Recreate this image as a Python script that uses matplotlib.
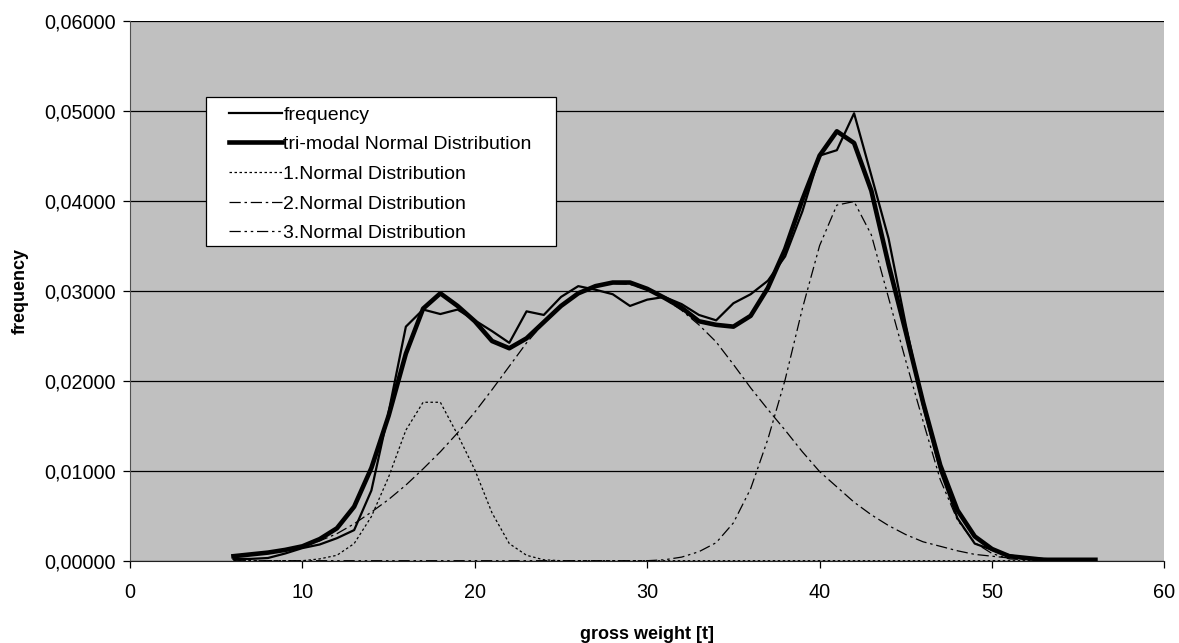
import matplotlib.pyplot as plt
from matplotlib.patches import Rectangle
from matplotlib.ticker import FuncFormatter, MultipleLocator

plt.rcParams['font.family'] = ['Liberation Sans', 'DejaVu Sans']

# gross weight classes [t]
weight = list(range(6, 57))

# observed frequency
frequency = [0.0002, 0.0002, 0.0003, 0.0008, 0.0014, 0.0018, 0.0025, 0.0034, 0.0078, 0.0165,
             0.0260, 0.0279, 0.0274, 0.0279, 0.0267, 0.0255, 0.0242, 0.0277, 0.0273, 0.0293,
             0.0305, 0.0301, 0.0296, 0.0283, 0.0290, 0.0293, 0.0285, 0.0273, 0.0267, 0.0286,
             0.0296, 0.0311, 0.0338, 0.0388, 0.0450, 0.0456, 0.0497, 0.0428, 0.0358, 0.0262,
             0.0172, 0.0100, 0.0047, 0.0019, 0.0012, 0.0006, 0.0003, 0.0002, 0.0001, 0.0001,
             0.0001]

# fitted tri-modal normal distribution
tri_modal = [0.0005, 0.0007, 0.0009, 0.0012, 0.0016, 0.0024, 0.0036, 0.0060, 0.0103, 0.0161,
             0.0230, 0.0280, 0.0297, 0.0283, 0.0266, 0.0244, 0.0236, 0.0247, 0.0265, 0.0283,
             0.0297, 0.0305, 0.0309, 0.0309, 0.0302, 0.0292, 0.0281, 0.0266, 0.0262, 0.0260,
             0.0272, 0.0303, 0.0346, 0.0401, 0.0450, 0.0477, 0.0464, 0.0411, 0.0329, 0.0254,
             0.0176, 0.0106, 0.0056, 0.0027, 0.0013, 0.0005, 0.0003, 0.0001, 0.0001, 0.0001,
             0.0001]

# single components
normal_1 = [0.0, 0.0, 0.0, 0.0, 0.0, 0.0002, 0.0006, 0.0019, 0.0049, 0.0093,
            0.0145, 0.0176, 0.0176, 0.0140, 0.0101, 0.0053, 0.0019, 0.0006, 0.0001, 0.0,
            0.0, 0.0, 0.0, 0.0, 0.0, 0.0, 0.0, 0.0, 0.0, 0.0,
            0.0, 0.0, 0.0, 0.0, 0.0, 0.0, 0.0, 0.0, 0.0, 0.0,
            0.0, 0.0, 0.0, 0.0, 0.0, 0.0, 0.0, 0.0, 0.0, 0.0,
            0.0]

normal_2 = [0.0005, 0.0007, 0.0009, 0.0012, 0.0016, 0.0022, 0.0030, 0.0041, 0.0054, 0.0068,
            0.0084, 0.0102, 0.0121, 0.0142, 0.0165, 0.0190, 0.0216, 0.0242, 0.0264, 0.0283,
            0.0297, 0.0305, 0.0308, 0.0307, 0.0301, 0.0291, 0.0278, 0.0262, 0.0243, 0.0218,
            0.0192, 0.0168, 0.0145, 0.0121, 0.0099, 0.0082, 0.0065, 0.0051, 0.0039, 0.0029,
            0.0021, 0.0016, 0.0011, 0.0007, 0.0005, 0.0003, 0.0002, 0.0001, 0.0001, 0.0,
            0.0]

normal_3 = [0.0, 0.0, 0.0, 0.0, 0.0, 0.0, 0.0, 0.0, 0.0, 0.0,
            0.0, 0.0, 0.0, 0.0, 0.0, 0.0, 0.0, 0.0, 0.0, 0.0,
            0.0, 0.0, 0.0, 0.0, 0.0, 0.0001, 0.0004, 0.0010, 0.0020, 0.0042,
            0.0080, 0.0135, 0.0201, 0.0280, 0.0350, 0.0395, 0.0399, 0.0362, 0.0292, 0.0222,
            0.0155, 0.0090, 0.0045, 0.0020, 0.0008, 0.0002, 0.0001, 0.0, 0.0, 0.0,
            0.0]

W, H = 1179, 643
fig = plt.figure(figsize=(W / 100, H / 100), dpi=100)
ax = fig.add_axes([0.1103, 0.128, 0.8773, 0.840])
ax.set_facecolor('#C0C0C0')

ax.plot(weight, frequency, color='black', lw=1.6, label='frequency', zorder=5)
ax.plot(weight, tri_modal, color='black', lw=3.3, label='tri-modal Normal Distribution', zorder=6)
ax.plot(weight, normal_1, color='black', lw=0.9, dashes=(2, 2), label='1.Normal Distribution', zorder=4)
ax.plot(weight, normal_2, color='black', lw=0.9, dashes=(9, 3, 2, 3), label='2.Normal Distribution', zorder=4)
ax.plot(weight, normal_3, color='black', lw=0.9, dashes=(9, 3, 2, 3, 2, 3), label='3.Normal Distribution', zorder=4)

ax.set_xlim(0, 60)
ax.set_ylim(0, 0.06)
ax.xaxis.set_major_locator(MultipleLocator(10))
ax.yaxis.set_major_locator(MultipleLocator(0.01))
ax.yaxis.set_major_formatter(FuncFormatter(lambda v, p: f'{v:.5f}'.replace('.', ',')))
ax.grid(axis='y', color='black', lw=0.9)
ax.set_axisbelow(True)

for side in ['top', 'right']:
    ax.spines[side].set_visible(False)
ax.spines['left'].set_color('#505050')
ax.spines['bottom'].set_color('#202020')
ax.tick_params(axis='both', direction='out', length=5, width=0.9, labelsize=14.3, colors='black')
ax.tick_params(axis='x', pad=11)
ax.tick_params(axis='y', pad=5.5)

ax.set_xlabel('gross weight [t]', fontsize=13, fontweight='bold', labelpad=17)
ax.set_ylabel('frequency', fontsize=13, fontweight='bold', labelpad=11)

# legend box drawn like the spreadsheet one, legend entries placed inside it
box = Rectangle((206 / W, 1 - 246 / H), 350 / W, 149 / H, transform=fig.transFigure,
                facecolor='white', edgecolor='black', lw=0.9, zorder=7)
ax.add_patch(box)
box.set_clip_on(False)

leg = ax.legend(loc='upper left', bbox_to_anchor=(229 / W, 1 - 106 / H),
                bbox_transform=fig.transFigure, borderaxespad=0, frameon=False,
                fontsize=14, handlelength=2.7, handletextpad=0.1,
                labelspacing=0.62, borderpad=0)
leg.set_zorder(8)

plt.savefig('out.png', dpi=100)
